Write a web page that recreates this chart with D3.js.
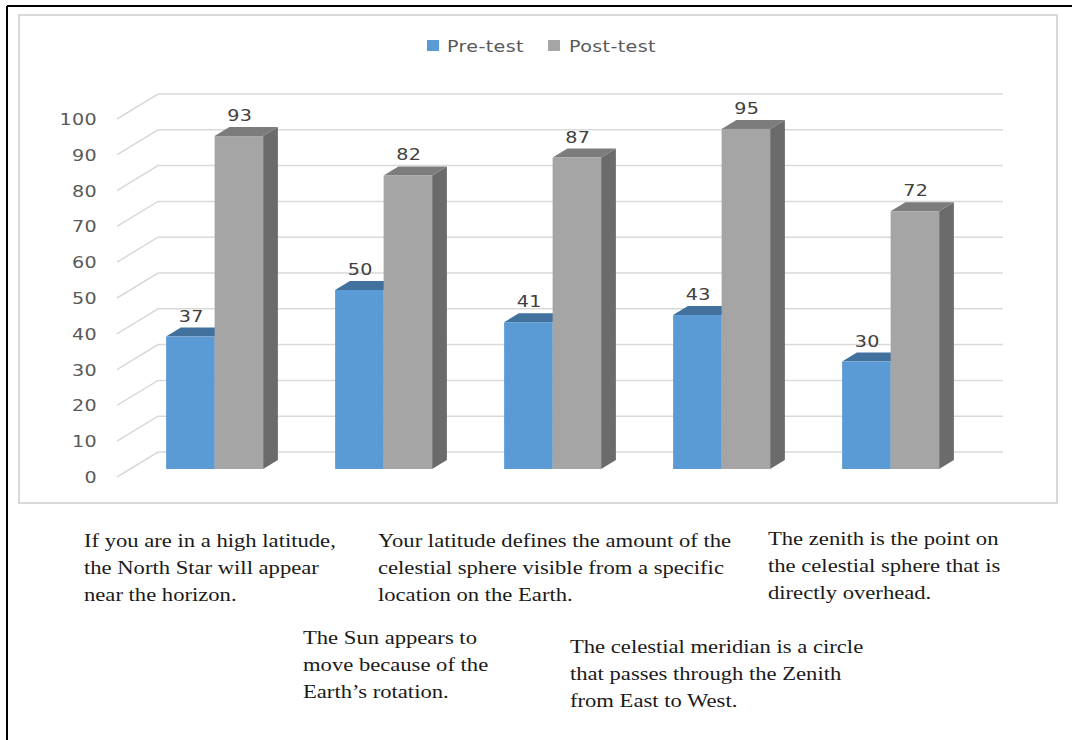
<!DOCTYPE html>
<html>
<head>
<meta charset="utf-8">
<script src="https://cdn.jsdelivr.net/npm/d3@7"></script>
<style>
  html, body { margin: 0; padding: 0; background: #fff; }
  svg { display: block; }
</style>
</head>
<body>
<svg id="chart" width="1078" height="740"></svg>
<script>
// Survey items, series and axis ticks
const categories = ["Item 1", "Item 2", "Item 3", "Item 4", "Item 5"];
const seriesNames = ["Pre-test", "Post-test"];
const preTest = [37, 50, 41, 43, 30];
const postTest = [93, 82, 87, 95, 72];
const yTicks = [0, 10, 20, 30, 40, 50, 60, 70, 80, 90, 100];

// Statements printed below the chart
const statements = [
  ["If you are in a high latitude,", "the North Star will appear", "near the horizon."],
  ["Your latitude defines the amount of the", "celestial sphere visible from a specific", "location on the Earth."],
  ["The zenith is the point on", "the celestial sphere that is", "directly overhead."],
  ["The Sun appears to", "move because of the", "Earth\u2019s rotation."],
  ["The celestial meridian is a circle", "that passes through the Zenith", "from East to West."]
];

const svg = d3.select("#chart");
const W = 1078, H = 740;

// Wide sans text: glyphs are stretched horizontally
const SANS = "DejaVu Sans, sans-serif";
const SANS_SIZE = 16.5, SANS_SX = 1.16;
function sansText(parent, x, yPos, str, anchor, fill) {
  return parent.append("text")
    .attr("transform", `translate(${x},${yPos}) scale(${SANS_SX},1)`)
    .attr("text-anchor", anchor)
    .attr("font-family", SANS)
    .attr("font-size", SANS_SIZE)
    .attr("letter-spacing", 0.3)
    .attr("fill", fill)
    .text(str);
}

// Page border (top and left rule)
svg.append("line").attr("x1", 7).attr("y1", 6).attr("x2", 1072).attr("y2", 6)
  .attr("stroke", "#000").attr("stroke-width", 2);
svg.append("line").attr("x1", 7).attr("y1", 6).attr("x2", 7).attr("y2", H)
  .attr("stroke", "#000").attr("stroke-width", 2);

// Chart area frame
svg.append("rect").attr("x", 19).attr("y", 15).attr("width", 1038).attr("height", 488)
  .attr("fill", "#fff").attr("stroke", "#d9d9d9").attr("stroke-width", 2);

// 3D projection: depth offset from front plane to back wall
const depthX = 41, depthY = -25;
const barDepthStart = 0.32, barDepthEnd = 0.68;

const y = d3.scaleLinear().domain([0, 100]).range([477, 119]);
const x0 = d3.scaleBand().domain(categories).range([117, 962]).paddingInner(0).paddingOuter(0);
const x1 = d3.scaleBand().domain(seriesNames).range([0, x0.bandwidth()]).paddingInner(0).paddingOuter(0.742);

const colors = {
  "Pre-test":  { front: "#5b9bd5", top: "#41719c", side: "#3f6f9a" },
  "Post-test": { front: "#a5a5a5", top: "#7c7c7c", side: "#6b6b6b" }
};

// Gridlines: diagonal along the left side wall, then across the back wall
const grid = svg.append("g").attr("fill", "none").attr("stroke", "#d9d9d9").attr("stroke-width", 1.5);
yTicks.forEach(t => {
  const fx = 117, fy = y(t);
  grid.append("path")
    .attr("d", `M${fx},${fy}L${fx + depthX},${fy + depthY}L${962 + depthX},${fy + depthY}`);
});

// Y axis labels
const axisG = svg.append("g");
yTicks.forEach(t => sansText(axisG, 97, y(t) + 6, t, "end", "#595959"));

// Bars
const rows = categories.map((c, i) => ({ cat: c, values: [
  { key: "Pre-test", v: preTest[i] },
  { key: "Post-test", v: postTest[i] }
]}));

const bdx0 = depthX * barDepthStart, bdy0 = depthY * barDepthStart;
const bdx = depthX * (barDepthEnd - barDepthStart), bdy = depthY * (barDepthEnd - barDepthStart);

const barsG = svg.append("g");
rows.forEach(r => {
  // pre-test first; the post-test front face then hides its side face
  r.values.forEach(d => {
    const left = x0(r.cat) + x1(d.key) + bdx0;
    const right = left + x1.bandwidth();
    const bottom = y(0) + bdy0;
    const top = y(d.v) + bdy0;
    const c = colors[d.key];
    const g = barsG.append("g");
    g.append("path")
      .attr("d", `M${right},${top}L${right + bdx},${top + bdy}L${right + bdx},${bottom + bdy}L${right},${bottom}Z`)
      .attr("fill", c.side);
    g.append("path")
      .attr("d", `M${left},${top}L${left + bdx},${top + bdy}L${right + bdx},${top + bdy}L${right},${top}Z`)
      .attr("fill", c.top);
    g.append("rect")
      .attr("x", left).attr("y", top)
      .attr("width", right - left).attr("height", bottom - top)
      .attr("fill", c.front);
  });
  // value labels
  r.values.forEach(d => {
    const left = x0(r.cat) + x1(d.key) + bdx0;
    const top = y(d.v) + bdy0;
    sansText(barsG, left + x1.bandwidth() / 2 + 1, top + bdy - 6, d.v, "middle", "#404040");
  });
});

// Legend
const legend = svg.append("g");
const legendItems = [
  { key: "Pre-test", sx: 427, tx: 447 },
  { key: "Post-test", sx: 548, tx: 569 }
];
legendItems.forEach(it => {
  legend.append("rect").attr("x", it.sx).attr("y", 40).attr("width", 12).attr("height", 11)
    .attr("fill", colors[it.key].front);
  sansText(legend, it.tx, 51.5, it.key, "start", "#595959");
});

// Statements below the chart
const noteLayout = [
  { x: 84, y: 547 },
  { x: 378, y: 547 },
  { x: 768, y: 545 },
  { x: 303, y: 644 },
  { x: 570, y: 653 }
];
const NOTE_SX = 1.16;
const notes = svg.append("g")
  .attr("font-family", "Liberation Serif, Times New Roman, serif")
  .attr("font-size", 19.5)
  .attr("fill", "#1a1a1a");
statements.forEach((lines, i) => {
  const t = notes.append("text")
    .attr("transform", `translate(${noteLayout[i].x},${noteLayout[i].y}) scale(${NOTE_SX},1)`);
  lines.forEach((ln, j) => {
    t.append("tspan").attr("x", 0).attr("dy", j === 0 ? 0 : 27).text(ln);
  });
});
</script>
</body>
</html>
